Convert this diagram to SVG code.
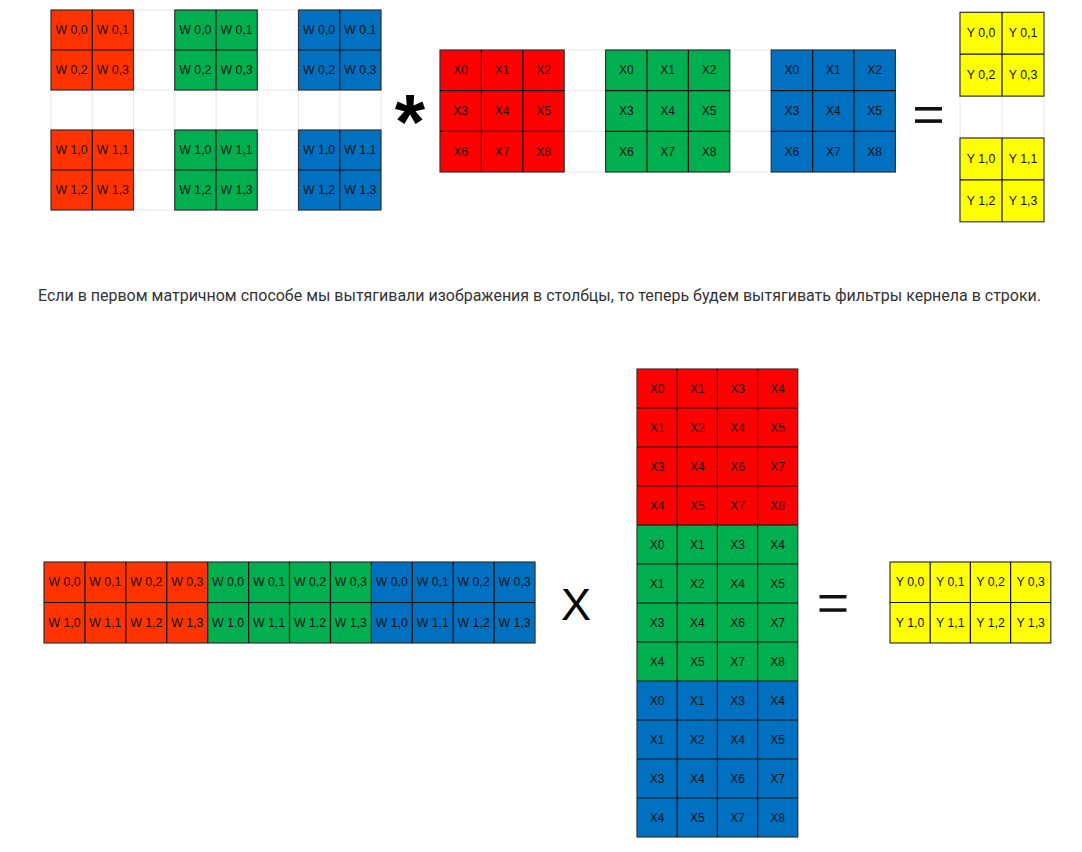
<svg xmlns="http://www.w3.org/2000/svg" width="1082" height="852" viewBox="0 0 1082 852">
<style>
.r{fill:#ff3300}.rx{fill:#ff0000}.g{fill:#00b050}.b{fill:#0070c0}.y{fill:#ffff00}
.blk{stroke:#333;stroke-width:1.2}
.ln{fill:none;stroke:#111;stroke-width:1.2}
.fg{fill:none;stroke:#e6e6ee;stroke-width:1}
.t{font-family:"Liberation Sans",Arial,sans-serif;font-size:12.3px;fill:#111;text-anchor:middle}
.tx{font-family:"Liberation Sans",Arial,sans-serif;font-size:12px;fill:#111;text-anchor:middle}
.op{font-family:"Liberation Sans",Arial,sans-serif;fill:#000;text-anchor:middle}
</style>
<rect width="1082" height="852" fill="#fff"/>

<!-- faint spreadsheet gridlines -->
<g id="faint-grid">
<path class="fg" d="M51 10H381M51 50H381M51 90H381M51 130H381M51 170H381M51 210H381M51 10V210M92.25 10V210M133.5 10V210M174.75 10V210M216 10V210M257.25 10V210M298.5 10V210M339.75 10V210M381 10V210"/>
<path class="fg" d="M440 50H895.4M440 90.7H895.4M440 131.3H895.4M440 172H895.4"/>
<path class="fg" d="M960 96.1H1044M960 138H1044M960 96.1V138M1002 96.1V138M1044 96.1V138"/>
</g>

<!-- Top W kernels -->
<g id="w-top-red">
<rect class="r blk" x="51" y="10" width="82.5" height="80"/>
<path class="ln" d="M92.25 10V90M51 50H133.5"/>
<text class="t" x="71.6" y="34">W 0,0</text><text class="t" x="112.9" y="34">W 0,1</text>
<text class="t" x="71.6" y="74">W 0,2</text><text class="t" x="112.9" y="74">W 0,3</text>
<rect class="r blk" x="51" y="130" width="82.5" height="80"/>
<path class="ln" d="M92.25 130V210M51 170H133.5"/>
<text class="t" x="71.6" y="154">W 1,0</text><text class="t" x="112.9" y="154">W 1,1</text>
<text class="t" x="71.6" y="194">W 1,2</text><text class="t" x="112.9" y="194">W 1,3</text>
</g>
<g id="w-top-green">
<rect class="g blk" x="174.75" y="10" width="82.5" height="80"/>
<path class="ln" d="M216 10V90M174.75 50H257.25"/>
<text class="t" x="195.4" y="34">W 0,0</text><text class="t" x="236.6" y="34">W 0,1</text>
<text class="t" x="195.4" y="74">W 0,2</text><text class="t" x="236.6" y="74">W 0,3</text>
<rect class="g blk" x="174.75" y="130" width="82.5" height="80"/>
<path class="ln" d="M216 130V210M174.75 170H257.25"/>
<text class="t" x="195.4" y="154">W 1,0</text><text class="t" x="236.6" y="154">W 1,1</text>
<text class="t" x="195.4" y="194">W 1,2</text><text class="t" x="236.6" y="194">W 1,3</text>
</g>
<g id="w-top-blue">
<rect class="b blk" x="298.5" y="10" width="82.5" height="80"/>
<path class="ln" d="M339.75 10V90M298.5 50H381"/>
<text class="t" x="319.1" y="34">W 0,0</text><text class="t" x="360.4" y="34">W 0,1</text>
<text class="t" x="319.1" y="74">W 0,2</text><text class="t" x="360.4" y="74">W 0,3</text>
<rect class="b blk" x="298.5" y="130" width="82.5" height="80"/>
<path class="ln" d="M339.75 130V210M298.5 170H381"/>
<text class="t" x="319.1" y="154">W 1,0</text><text class="t" x="360.4" y="154">W 1,1</text>
<text class="t" x="319.1" y="194">W 1,2</text><text class="t" x="360.4" y="194">W 1,3</text>
</g>

<!-- operators -->
<g id="operators">
<text class="op" x="410" y="149" font-size="78" font-weight="bold">*</text>
<rect x="915" y="107" width="27" height="3.6" fill="#111"/>
<rect x="915" y="119.3" width="27" height="3.6" fill="#111"/>
<text class="op" x="576" y="620" font-size="45">X</text>
<rect x="819.5" y="595" width="27" height="3.5" fill="#111"/>
<rect x="819.5" y="608.3" width="27" height="3.5" fill="#111"/>
</g>

<!-- Top X images -->
<g id="x-top-red">
<rect class="rx blk" x="440" y="50" width="124.2" height="122"/>
<path class="ln" d="M481.4 50V172M522.8 50V172M440 90.7H564.2M440 131.3H564.2"/>
<text class="tx" x="460.7" y="74.3">X0</text><text class="tx" x="502.1" y="74.3">X1</text><text class="tx" x="543.5" y="74.3">X2</text>
<text class="tx" x="460.7" y="115">X3</text><text class="tx" x="502.1" y="115">X4</text><text class="tx" x="543.5" y="115">X5</text>
<text class="tx" x="460.7" y="155.7">X6</text><text class="tx" x="502.1" y="155.7">X7</text><text class="tx" x="543.5" y="155.7">X8</text>
</g>
<g id="x-top-green">
<rect class="g blk" x="605.6" y="50" width="124.2" height="122"/>
<path class="ln" d="M647 50V172M688.4 50V172M605.6 90.7H729.8M605.6 131.3H729.8"/>
<text class="tx" x="626.3" y="74.3">X0</text><text class="tx" x="667.7" y="74.3">X1</text><text class="tx" x="709.1" y="74.3">X2</text>
<text class="tx" x="626.3" y="115">X3</text><text class="tx" x="667.7" y="115">X4</text><text class="tx" x="709.1" y="115">X5</text>
<text class="tx" x="626.3" y="155.7">X6</text><text class="tx" x="667.7" y="155.7">X7</text><text class="tx" x="709.1" y="155.7">X8</text>
</g>
<g id="x-top-blue">
<rect class="b blk" x="771.2" y="50" width="124.2" height="122"/>
<path class="ln" d="M812.6 50V172M854 50V172M771.2 90.7H895.4M771.2 131.3H895.4"/>
<text class="tx" x="791.9" y="74.3">X0</text><text class="tx" x="833.3" y="74.3">X1</text><text class="tx" x="874.7" y="74.3">X2</text>
<text class="tx" x="791.9" y="115">X3</text><text class="tx" x="833.3" y="115">X4</text><text class="tx" x="874.7" y="115">X5</text>
<text class="tx" x="791.9" y="155.7">X6</text><text class="tx" x="833.3" y="155.7">X7</text><text class="tx" x="874.7" y="155.7">X8</text>
</g>

<!-- Top Y result -->
<g id="y-top">
<rect class="y blk" x="960" y="12.3" width="84" height="83.8"/>
<path class="ln" d="M1002 12.3V96.1M960 54.2H1044"/>
<text class="t" x="981" y="37.2">Y 0,0</text><text class="t" x="1023" y="37.2">Y 0,1</text>
<text class="t" x="981" y="79.1">Y 0,2</text><text class="t" x="1023" y="79.1">Y 0,3</text>
<rect class="y blk" x="960" y="138" width="84" height="83.8"/>
<path class="ln" d="M1002 138V221.8M960 179.9H1044"/>
<text class="t" x="981" y="162.9">Y 1,0</text><text class="t" x="1023" y="162.9">Y 1,1</text>
<text class="t" x="981" y="204.8">Y 1,2</text><text class="t" x="1023" y="204.8">Y 1,3</text>
</g>

<!-- Caption -->
<text id="caption" x="38" y="301" font-family="Roboto,'Liberation Sans',sans-serif" font-size="16" fill="#333" textLength="1003" lengthAdjust="spacingAndGlyphs">Если в первом матричном способе мы вытягивали изображения в столбцы, то теперь будем вытягивать фильтры кернела в строки.</text>

<!-- Bottom W row matrix -->
<g id="w-row">
<rect class="r" x="44" y="562" width="163.68" height="81"/>
<rect class="g" x="207.68" y="562" width="163.68" height="81"/>
<rect class="b" x="371.36" y="562" width="163.68" height="81"/>
<rect class="blk" fill="none" x="44" y="562" width="491.04" height="81"/>
<path class="ln" d="M44 602.5H535.04M84.92 562V643M125.84 562V643M166.76 562V643M207.68 562V643M248.6 562V643M289.52 562V643M330.44 562V643M371.36 562V643M412.28 562V643M453.2 562V643M494.12 562V643"/>
<text class="t" x="64.46" y="586.2">W 0,0</text><text class="t" x="105.38" y="586.2">W 0,1</text><text class="t" x="146.3" y="586.2">W 0,2</text><text class="t" x="187.22" y="586.2">W 0,3</text>
<text class="t" x="228.14" y="586.2">W 0,0</text><text class="t" x="269.06" y="586.2">W 0,1</text><text class="t" x="309.98" y="586.2">W 0,2</text><text class="t" x="350.9" y="586.2">W 0,3</text>
<text class="t" x="391.82" y="586.2">W 0,0</text><text class="t" x="432.74" y="586.2">W 0,1</text><text class="t" x="473.66" y="586.2">W 0,2</text><text class="t" x="514.58" y="586.2">W 0,3</text>
<text class="t" x="64.46" y="626.7">W 1,0</text><text class="t" x="105.38" y="626.7">W 1,1</text><text class="t" x="146.3" y="626.7">W 1,2</text><text class="t" x="187.22" y="626.7">W 1,3</text>
<text class="t" x="228.14" y="626.7">W 1,0</text><text class="t" x="269.06" y="626.7">W 1,1</text><text class="t" x="309.98" y="626.7">W 1,2</text><text class="t" x="350.9" y="626.7">W 1,3</text>
<text class="t" x="391.82" y="626.7">W 1,0</text><text class="t" x="432.74" y="626.7">W 1,1</text><text class="t" x="473.66" y="626.7">W 1,2</text><text class="t" x="514.58" y="626.7">W 1,3</text>
</g>

<!-- Tall X column matrix -->
<g id="x-column">
<rect class="rx" x="637" y="369" width="160.8" height="156"/>
<rect class="g" x="637" y="525" width="160.8" height="156"/>
<rect class="b" x="637" y="681" width="160.8" height="156"/>
<rect class="blk" fill="none" x="637" y="369" width="160.8" height="468"/>
<path class="ln" d="M677.2 369V837M717.4 369V837M757.6 369V837M637 408H797.8M637 447H797.8M637 486H797.8M637 525H797.8M637 564H797.8M637 603H797.8M637 642H797.8M637 681H797.8M637 720H797.8M637 759H797.8M637 798H797.8"/>
<text class="tx" x="657.1" y="392.5">X0</text><text class="tx" x="697.3" y="392.5">X1</text><text class="tx" x="737.5" y="392.5">X3</text><text class="tx" x="777.7" y="392.5">X4</text>
<text class="tx" x="657.1" y="431.5">X1</text><text class="tx" x="697.3" y="431.5">X2</text><text class="tx" x="737.5" y="431.5">X4</text><text class="tx" x="777.7" y="431.5">X5</text>
<text class="tx" x="657.1" y="470.5">X3</text><text class="tx" x="697.3" y="470.5">X4</text><text class="tx" x="737.5" y="470.5">X6</text><text class="tx" x="777.7" y="470.5">X7</text>
<text class="tx" x="657.1" y="509.5">X4</text><text class="tx" x="697.3" y="509.5">X5</text><text class="tx" x="737.5" y="509.5">X7</text><text class="tx" x="777.7" y="509.5">X8</text>
<text class="tx" x="657.1" y="548.5">X0</text><text class="tx" x="697.3" y="548.5">X1</text><text class="tx" x="737.5" y="548.5">X3</text><text class="tx" x="777.7" y="548.5">X4</text>
<text class="tx" x="657.1" y="587.5">X1</text><text class="tx" x="697.3" y="587.5">X2</text><text class="tx" x="737.5" y="587.5">X4</text><text class="tx" x="777.7" y="587.5">X5</text>
<text class="tx" x="657.1" y="626.5">X3</text><text class="tx" x="697.3" y="626.5">X4</text><text class="tx" x="737.5" y="626.5">X6</text><text class="tx" x="777.7" y="626.5">X7</text>
<text class="tx" x="657.1" y="665.5">X4</text><text class="tx" x="697.3" y="665.5">X5</text><text class="tx" x="737.5" y="665.5">X7</text><text class="tx" x="777.7" y="665.5">X8</text>
<text class="tx" x="657.1" y="704.5">X0</text><text class="tx" x="697.3" y="704.5">X1</text><text class="tx" x="737.5" y="704.5">X3</text><text class="tx" x="777.7" y="704.5">X4</text>
<text class="tx" x="657.1" y="743.5">X1</text><text class="tx" x="697.3" y="743.5">X2</text><text class="tx" x="737.5" y="743.5">X4</text><text class="tx" x="777.7" y="743.5">X5</text>
<text class="tx" x="657.1" y="782.5">X3</text><text class="tx" x="697.3" y="782.5">X4</text><text class="tx" x="737.5" y="782.5">X6</text><text class="tx" x="777.7" y="782.5">X7</text>
<text class="tx" x="657.1" y="821.5">X4</text><text class="tx" x="697.3" y="821.5">X5</text><text class="tx" x="737.5" y="821.5">X7</text><text class="tx" x="777.7" y="821.5">X8</text>
</g>

<!-- Bottom Y result -->
<g id="y-row">
<rect class="y blk" x="890" y="562" width="160.8" height="81"/>
<path class="ln" d="M890 602.5H1050.8M930.2 562V643M970.4 562V643M1010.6 562V643"/>
<text class="t" x="910.1" y="586.2">Y 0,0</text><text class="t" x="950.3" y="586.2">Y 0,1</text><text class="t" x="990.5" y="586.2">Y 0,2</text><text class="t" x="1030.7" y="586.2">Y 0,3</text>
<text class="t" x="910.1" y="626.7">Y 1,0</text><text class="t" x="950.3" y="626.7">Y 1,1</text><text class="t" x="990.5" y="626.7">Y 1,2</text><text class="t" x="1030.7" y="626.7">Y 1,3</text>
</g>

<g id="connectors"></g>
</svg>
